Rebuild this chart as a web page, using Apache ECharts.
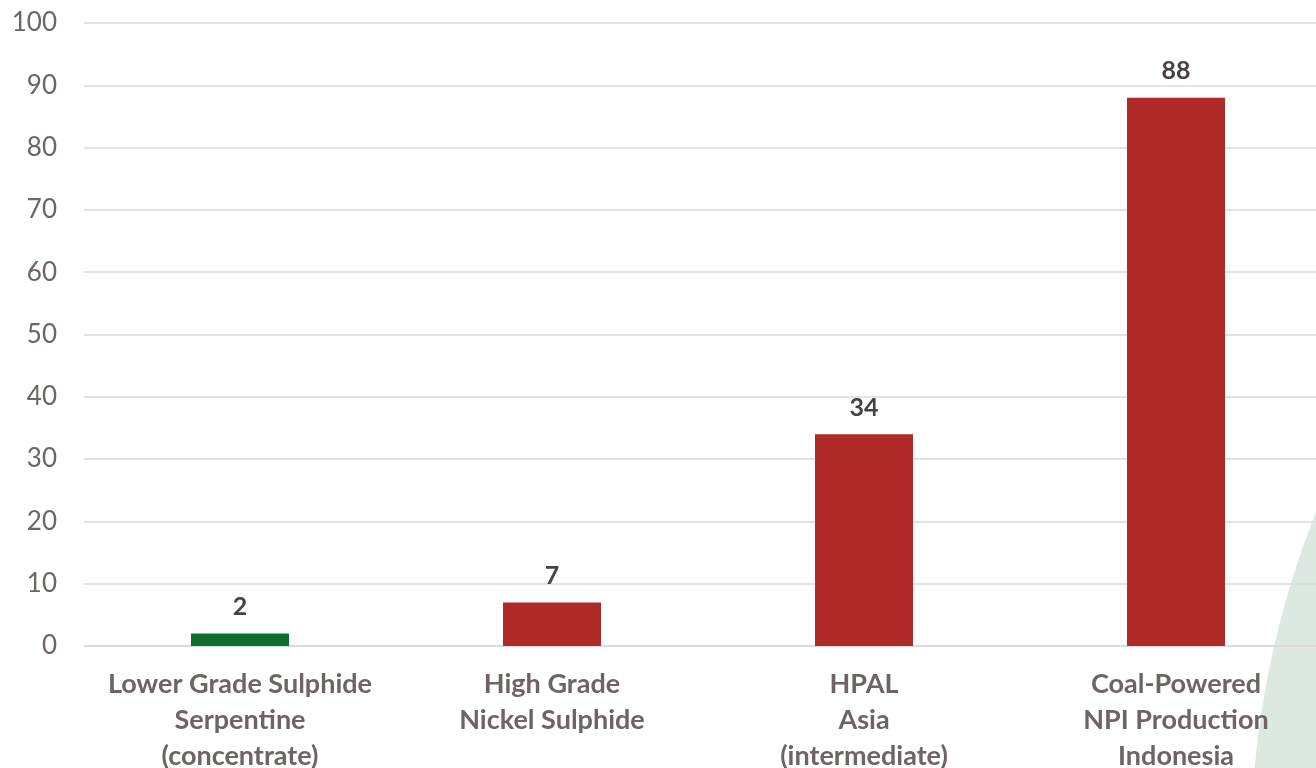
<!DOCTYPE html>
<html>
<head>
<meta charset="utf-8">
<script src="https://cdn.jsdelivr.net/npm/echarts@6/dist/echarts.min.js"></script>
<style>
html,body{margin:0;padding:0;background:#fff;}
#c{width:1316px;height:768px;}
</style>
</head>
<body>
<div id="c"></div>
<script>
const categories = [
  'Lower Grade Sulphide\nSerpentine\n(concentrate)',
  'High Grade\nNickel Sulphide',
  'HPAL\nAsia\n(intermediate)',
  'Coal-Powered\nNPI Production\nIndonesia'
];
const values = [2, 7, 34, 88];
const yTicks = [0, 10, 20, 30, 40, 50, 60, 70, 80, 90, 100];

const GREEN = '#0e6d30';
const RED = '#b02a27';

const chart = echarts.init(document.getElementById('c'), null, {renderer: 'canvas'});
chart.setOption({
  animation: false,
  backgroundColor: '#ffffff',
  graphic: [{
    type: 'circle',
    z: -10,
    silent: true,
    shape: {cx: 2163, cy: 850, r: 912},
    style: {fill: '#dce9e0'}
  }],
  grid: {left: 84, right: -16, top: 23, bottom: 122, containLabel: false, outerBoundsMode: 'none'},
  xAxis: {
    type: 'category',
    data: categories,
    axisLine: {show: true, lineStyle: {color: '#d9d9d9', width: 1.5}},
    axisTick: {show: false},
    axisLabel: {
      interval: 0,
      margin: 20,
      fontFamily: 'Lato',
      fontWeight: 'bold',
      fontSize: 27,
      lineHeight: 36,
      color: '#6f6464'
    }
  },
  yAxis: {
    type: 'value',
    min: yTicks[0],
    max: yTicks[yTicks.length - 1],
    interval: 10,
    axisLine: {show: false},
    axisTick: {show: false},
    splitLine: {lineStyle: {color: '#d9d9d9', width: 1.5}},
    axisLabel: {
      margin: 27,
      fontFamily: 'Lato',
      fontSize: 26,
      color: '#6f6464'
    }
  },
  series: [{
    type: 'bar',
    data: values,
    barWidth: 98,
    itemStyle: {
      color: function (p) { return p.dataIndex === 0 ? GREEN : RED; }
    },
    label: {
      show: true,
      position: 'top',
      distance: 14,
      fontFamily: 'Lato',
      fontWeight: 'bold',
      fontSize: 25,
      color: '#4a4242'
    }
  }]
});
</script>
</body>
</html>
